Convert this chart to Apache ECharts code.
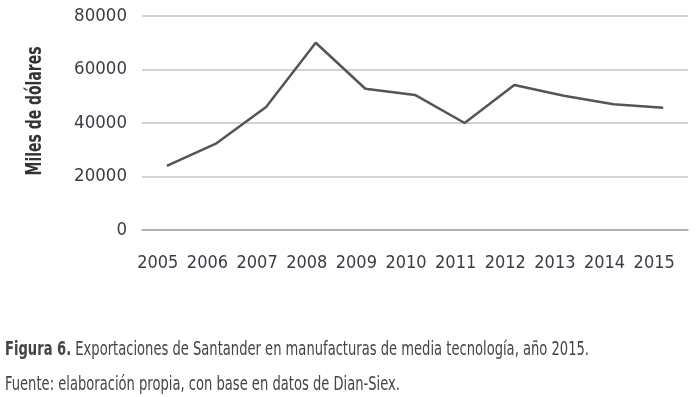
<!DOCTYPE html>
<html>
<head>
<meta charset="utf-8">
<script src="https://cdn.jsdelivr.net/npm/echarts@6/dist/echarts.min.js"></script>
<style>
html,body{margin:0;padding:0;background:#fff;}
#c{width:699px;height:397px;}
</style>
</head>
<body>
<div id="c"></div>
<script>
const years = ['2005','2006','2007','2008','2009','2010','2011','2012','2013','2014','2015'];
const exportsValues = [24000, 32400, 46000, 70000, 52800, 50500, 40000, 54200, 50200, 47000, 45700];
const yTicks = {min: 0, max: 80000, interval: 20000};
const yName = 'Miles de dólares';
const captionBold = 'Figura 6.';
const captionText = ' Exportaciones de Santander en manufacturas de media tecnología, año 2015.';
const sourceText = 'Fuente: elaboración propia, con base en datos de Dian-Siex.';

const FAM = '"DejaVu Sans Condensed"';
const FONT = FAM + ', sans-serif';
const mctx = document.createElement('canvas').getContext('2d');
function tw(txt, size, weight) { mctx.font = (weight || 'normal') + ' ' + size + 'px ' + FONT; return mctx.measureText(txt).width; }
const capSize = 19;
const capW = tw(captionBold, capSize, 'bold') + tw(captionText, capSize);
const capScale = 584 / capW;
const nameSize = 22;
const nameScale = 129 / tw(yName, nameSize, 'bold');

const chart = echarts.init(document.getElementById('c'), null, {renderer: 'canvas'});
chart.setOption({
  animation: false,
  backgroundColor: '#ffffff',
  grid: {left: 142, right: 11, top: 16, bottom: 167, containLabel: false},
  xAxis: {
    type: 'category',
    data: years,
    boundaryGap: true,
    axisLine: {show: true, lineStyle: {color: '#a8a8a8', width: 1.5}},
    axisTick: {show: false},
    axisLabel: {interval: 0, fontFamily: FONT, fontSize: 18, color: '#3c3c46', margin: 24, padding: [0, 18, 0, 0]}
  },
  yAxis: {
    type: 'value',
    min: yTicks.min, max: yTicks.max, interval: yTicks.interval,
    axisLine: {show: false},
    axisTick: {show: false},
    axisLabel: {fontFamily: FONT, fontSize: 18.5, color: '#3c3c46', margin: 15, formatter: v => String(v)},
    splitLine: {lineStyle: {color: '#c4c4c4', width: 1.5}}
  },
  series: [{
    type: 'line',
    data: exportsValues,
    symbol: 'none',
    lineStyle: {color: '#555555', width: 2.5},
    itemStyle: {color: '#555555'}
  }],
  graphic: [
    {
      type: 'text', x: 35, y: 111, rotation: Math.PI / 2, scaleX: nameScale, scaleY: 1,
      style: {text: yName, fontFamily: FONT, fontSize: nameSize, fontWeight: 'bold', fill: '#333333',
        textAlign: 'center', textVerticalAlign: 'middle', align: 'center', verticalAlign: 'middle'}
    },
    {
      type: 'text', x: 5, y: 350, scaleX: capScale, scaleY: 1,
      style: {
        text: '{b|' + captionBold + '}{r|' + captionText + '}',
        textVerticalAlign: 'middle', verticalAlign: 'middle',
        rich: {
          b: {fontFamily: FONT, fontSize: capSize, fontWeight: 'bold', fill: '#444444'},
          r: {fontFamily: FONT, fontSize: capSize, fill: '#444444'}
        }
      }
    },
    {
      type: 'text', x: 5, y: 385, scaleX: capScale, scaleY: 1,
      style: {text: sourceText, fontFamily: FONT, fontSize: capSize, fill: '#444444',
        textVerticalAlign: 'middle', verticalAlign: 'middle'}
    }
  ]
});
</script>
</body>
</html>
